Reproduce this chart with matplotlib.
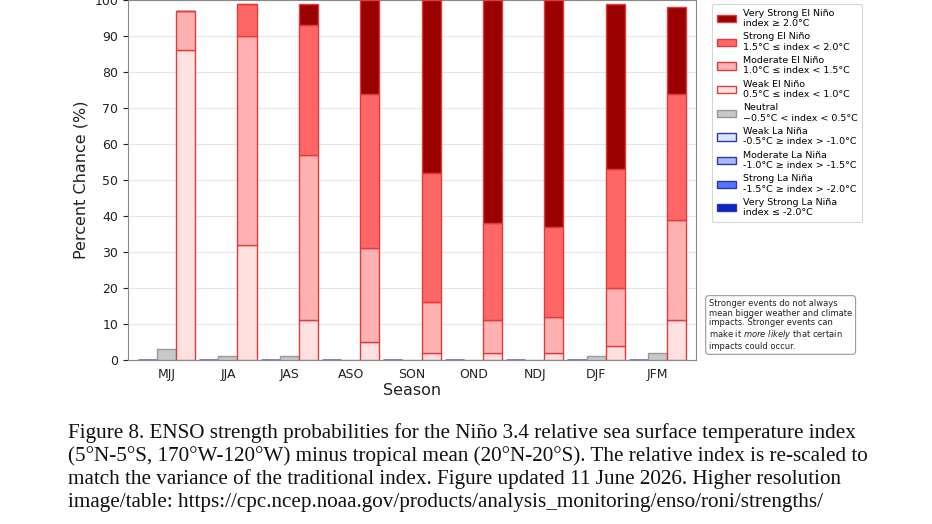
import matplotlib
matplotlib.use("Agg")
import matplotlib.pyplot as plt
import numpy as np

seasons = ["MJJ", "JJA", "JAS", "ASO", "SON", "OND", "NDJ", "DJF", "JFM"]
vs_lanina = [0, 0, 0, 0, 0, 0, 0, 0, 0]
strong_lanina = [0, 0, 0, 0, 0, 0, 0, 0, 0]
mod_lanina = [0, 0, 0, 0, 0, 0, 0, 0, 0]
weak_lanina = [0, 0, 0, 0, 0, 0, 0, 0, 0]
neutral = [3, 1, 1, 0, 0, 0, 0, 1, 2]
weak_elnino = [86, 32, 11, 5, 2, 2, 2, 4, 11]
mod_elnino = [11, 58, 46, 26, 14, 9, 10, 16, 28]
strong_elnino = [0, 9, 36, 43, 36, 27, 25, 33, 35]
vs_elnino = [0, 0, 6, 26, 48, 62, 63, 46, 24]

labels = [
    "Very Strong El Niño\nindex ≥ 2.0°C",
    "Strong El Niño\n1.5°C ≤ index < 2.0°C",
    "Moderate El Niño\n1.0°C ≤ index < 1.5°C",
    "Weak El Niño\n0.5°C ≤ index < 1.0°C",
    "Neutral\n\u22120.5°C < index < 0.5°C",
    "Weak La Niña\n-0.5°C ≥ index > -1.0°C",
    "Moderate La Niña\n-1.0°C ≥ index > -1.5°C",
    "Strong La Niña\n-1.5°C ≥ index > -2.0°C",
    "Very Strong La Niña\nindex ≤ -2.0°C",
]

red_edge = "#e23b3b"
blue_edge = "#2a3aa8"
c_vs_el = "#9b0000"
c_st_el = "#ff6666"
c_mo_el = "#ffb1b1"
c_wk_el = "#ffe1e1"
c_neu = "#c8c8c8"
c_wk_la = "#dbe4ff"
c_mo_la = "#a3baff"
c_st_la = "#5575ff"
c_vs_la = "#0525c8"

fig = plt.figure(figsize=(9.32, 5.24), dpi=100)
ax = fig.add_axes([128/932, 1 - 360/524, (696-128)/932, 360/524])

x = np.arange(len(seasons))
w = 0.31

# La Nina stack (left)
b = np.zeros(len(seasons))
h_la = []
for vals, col in [(weak_lanina, c_wk_la), (mod_lanina, c_mo_la),
                  (strong_lanina, c_st_la), (vs_lanina, c_vs_la)]:
    h = ax.bar(x - w, vals, w, bottom=b, color=col, edgecolor=blue_edge, linewidth=1.0, zorder=3)
    h_la.append(h)
    b = b + np.array(vals)

h_neu = ax.bar(x, neutral, w, color=c_neu, edgecolor="#999999", linewidth=1.0, zorder=3)

b = np.zeros(len(seasons))
h_el = []
for vals, col in [(weak_elnino, c_wk_el), (mod_elnino, c_mo_el),
                  (strong_elnino, c_st_el), (vs_elnino, c_vs_el)]:
    h = ax.bar(x + w, vals, w, bottom=b, color=col, edgecolor=red_edge, linewidth=1.0, zorder=3)
    h_el.append(h)
    b = b + np.array(vals)

ax.set_xlim(-0.63, 8.63)
ax.set_ylim(0, 100)
ax.set_yticks(np.arange(0, 101, 10))
ax.set_xticks(x)
ax.set_xticklabels(seasons)
ax.tick_params(axis="both", labelsize=9, colors="#222222", length=3.5)
ax.tick_params(axis="x", length=0, pad=6)
ax.grid(axis="y", color="#e6e6e6", linewidth=0.8, zorder=0)
ax.set_axisbelow(True)
for s in ax.spines.values():
    s.set_color("#888888")
ax.set_xlabel("Season", fontsize=11.5, color="#222222", labelpad=1)
ax.set_ylabel("Percent Chance (%)", fontsize=11.5, color="#222222", labelpad=4)

handles = [h_el[3], h_el[2], h_el[1], h_el[0], h_neu, h_la[0], h_la[1], h_la[2], h_la[3]]
leg = fig.legend(handles, labels, loc="upper left", bbox_to_anchor=(712/932, 1 - 4/524),
                 fontsize=6.8, frameon=True, handlelength=2.0, handleheight=0.8,
                 labelspacing=0.45, borderpad=0.5, handletextpad=0.75, borderaxespad=0)
leg.get_frame().set_edgecolor("#cccccc")
leg.get_frame().set_linewidth(0.8)

note = ("Stronger events do not always\nmean bigger weather and climate\nimpacts. Stronger events can\n"
        "make it $\\it{more\\ likely}$ that certain\nimpacts could occur.")
fig.text(709/932, 1 - 325/524, note, fontsize=6.0, va="center", ha="left", color="#222222",
         linespacing=1.1,
         bbox=dict(boxstyle="round,pad=0.4", facecolor="white", edgecolor="#999999", linewidth=0.8))

caption = [
    "Figure 8. ENSO strength probabilities for the Niño 3.4 relative sea surface temperature index",
    "(5°N-5°S, 170°W-120°W) minus tropical mean (20°N-20°S). The relative index is re-scaled to",
    "match the variance of the traditional index. Figure updated 11 June 2026. Higher resolution",
    "image/table: https://cpc.ncep.noaa.gov/products/analysis_monitoring/enso/roni/strengths/",
]
ys = [433, 456, 479, 502]
for line, yy in zip(caption, ys):
    fig.text(68/932, 1 - yy/524, line, fontsize=15.2, family="Liberation Serif",
             va="center", ha="left", color="#111111")

fig.savefig("out.png", dpi=100)
